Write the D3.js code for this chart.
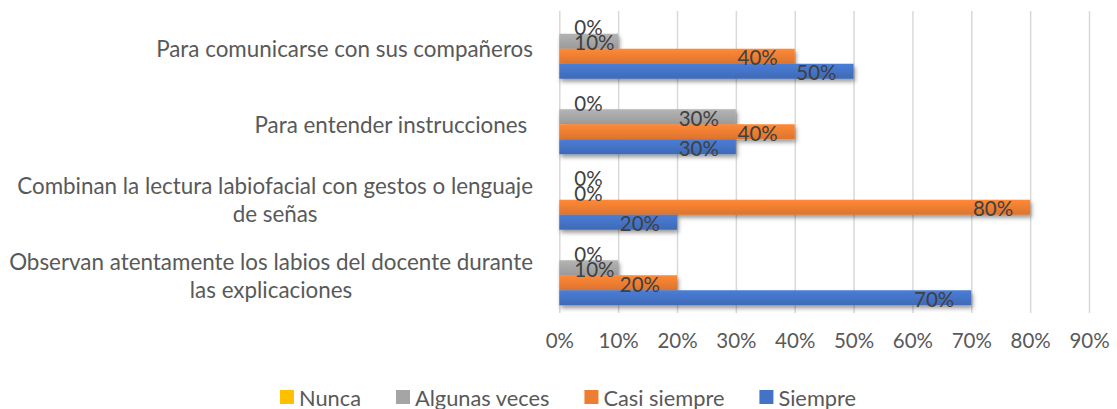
<!DOCTYPE html>
<html lang="es">
<head>
<meta charset="utf-8">
<script src="https://cdn.jsdelivr.net/npm/d3@7"></script>
<style>
  html, body { margin: 0; padding: 0; background: #fff; }
  svg { display: block; font-family: Lato, "Open Sans", sans-serif; }
</style>
</head>
<body>
<svg id="chart" width="1117" height="409"></svg>
<script>
// categorias de arriba hacia abajo
const categorias = [
  "Para comunicarse con sus compañeros",
  "Para entender instrucciones ",
  "Combinan la lectura labiofacial con gestos o lenguaje\nde señas",
  "Observan atentamente los labios del docente durante\nlas explicaciones"
];
const series = ["Nunca", "Algunas veces", "Casi siempre", "Siempre"];
const colores = ["#FFC000", "#A5A5A5", "#ED7D31", "#4472C4"];

// valores en %, uno por categoria
const nunca = [0, 0, 0, 0];
const algunasVeces = [10, 30, 0, 10];
const casiSiempre = [40, 40, 80, 20];
const siempre = [50, 30, 20, 70];

const ticksX = [0, 10, 20, 30, 40, 50, 60, 70, 80, 90];

const valores = [nunca, algunasVeces, casiSiempre, siempre];

const svg = d3.select("#chart");

const plot = { left: 559.3, right: 1089, top: 11, bottom: 313 };

const x = d3.scaleLinear().domain([0, 90]).range([plot.left, plot.right]);

const y0 = d3.scaleBand()
  .domain(categorias)
  .range([plot.top, plot.bottom])
  .paddingInner(0.205)
  .paddingOuter(0.1025);

const y1 = d3.scaleBand()
  .domain(series)
  .range([0, y0.bandwidth()])
  .padding(0);

const color = d3.scaleOrdinal().domain(series).range(colores);

// degradados y sombra al estilo de Excel
const defs = svg.append("defs");
series.forEach((s, i) => {
  const c = d3.color(colores[i]);
  const g = defs.append("linearGradient")
    .attr("id", "grad" + i)
    .attr("x1", 0).attr("y1", 0).attr("x2", 0).attr("y2", 1);
  g.append("stop").attr("offset", "0%").attr("stop-color", c.brighter(0.25));
  g.append("stop").attr("offset", "100%").attr("stop-color", c.darker(0.2));
});
const sombra = defs.append("filter")
  .attr("id", "sombra")
  .attr("x", "-5%").attr("y", "-30%")
  .attr("width", "115%").attr("height", "180%");
sombra.append("feDropShadow")
  .attr("dx", 1.5).attr("dy", 3)
  .attr("stdDeviation", 2)
  .attr("flood-color", "#000")
  .attr("flood-opacity", 0.4);

// lineas de cuadricula
const grid = svg.append("g")
  .attr("transform", `translate(0,${plot.bottom})`)
  .call(d3.axisBottom(x).tickValues(ticksX).tickSize(-(plot.bottom - plot.top)).tickFormat(""));
grid.select(".domain").remove();
grid.selectAll("line").attr("stroke", "#d9d9d9").attr("stroke-width", 1.5);

// etiquetas del eje x
const ejeX = svg.append("g")
  .attr("transform", `translate(0,333)`)
  .call(d3.axisBottom(x).tickValues(ticksX).tickSize(0).tickPadding(0).tickFormat(d => d + "%"));
ejeX.select(".domain").remove();
ejeX.selectAll("text")
  .attr("fill", "#595959")
  .attr("font-size", "20.5px")
  .attr("font-family", "Lato, 'Open Sans', sans-serif");

// barras
const filas = categorias.map((cat, ci) => ({
  cat,
  items: series.map((s, si) => ({ serie: s, si, valor: valores[si][ci] }))
}));

const grupos = svg.append("g")
  .selectAll("g")
  .data(filas)
  .join("g")
  .attr("transform", d => `translate(0,${y0(d.cat)})`);

grupos.selectAll("rect")
  .data(d => d.items.filter(it => it.valor > 0))
  .join("rect")
  .attr("x", x(0))
  .attr("y", d => y1(d.serie))
  .attr("width", d => x(d.valor) - x(0))
  .attr("height", y1.bandwidth())
  .attr("fill", d => `url(#grad${d.si})`)
  .attr("filter", "url(#sombra)");

// etiquetas de datos (extremo interno)
grupos.selectAll("text.dato")
  .data(d => d.items)
  .join("text")
  .attr("class", "dato")
  .attr("y", d => y1(d.serie) + y1.bandwidth() / 2 + 1)
  .attr("dominant-baseline", "central")
  .attr("fill", "#404040")
  .attr("font-size", "20.5px")
  .text(d => d.valor + "%")
  .each(function (d) {
    const w = this.getComputedTextLength();
    const fin = x(d.valor) - 17;
    const minIzq = x(0) + 15;
    const izq = Math.max(fin - w, minIzq);
    d3.select(this).attr("x", izq);
  });

// etiquetas de categoria
const etiquetas = svg.append("g")
  .selectAll("text")
  .data(categorias)
  .join("text")
  .attr("text-anchor", "middle")
  .attr("fill", "#595959")
  .attr("font-size", "22.4px")
  .style("white-space", "pre");

etiquetas.each(function (cat) {
  const lineas = cat.split("\n");
  const t = d3.select(this);
  const cy = y0(cat) + y0.bandwidth() / 2;
  const alto = 28;
  const yIni = cy - (lineas.length - 1) * alto / 2;
  const tspans = lineas.map((l, i) =>
    t.append("tspan")
      .attr("y", yIni + i * alto)
      .attr("dominant-baseline", "central")
      .text(l)
  );
  // alinear al borde derecho del bloque, lineas centradas entre si
  const anchos = tspans.map(s => s.node().getComputedTextLength());
  const maxAncho = d3.max(anchos);
  const centro = 533 - maxAncho / 2;
  tspans.forEach(s => s.attr("x", centro));
});

// leyenda
const leyenda = svg.append("g").attr("transform", "translate(0,397)");
const items = leyenda.selectAll("g")
  .data(series)
  .join("g");

items.append("rect")
  .attr("y", -7)
  .attr("width", 14)
  .attr("height", 14)
  .attr("fill", d => color(d));

items.append("text")
  .attr("x", 19)
  .attr("dominant-baseline", "central")
  .attr("fill", "#595959")
  .attr("font-size", "21.8px")
  .text(d => d);

let posX = 0;
const anchosLeyenda = [];
items.each(function () {
  const w = 19 + d3.select(this).select("text").node().getComputedTextLength();
  anchosLeyenda.push(posX);
  posX += w + 35;
});
const totalLeyenda = posX - 35;
const inicioLeyenda = 568 - totalLeyenda / 2;
items.attr("transform", (d, i) => `translate(${inicioLeyenda + anchosLeyenda[i]},0)`);
</script>
</body>
</html>
